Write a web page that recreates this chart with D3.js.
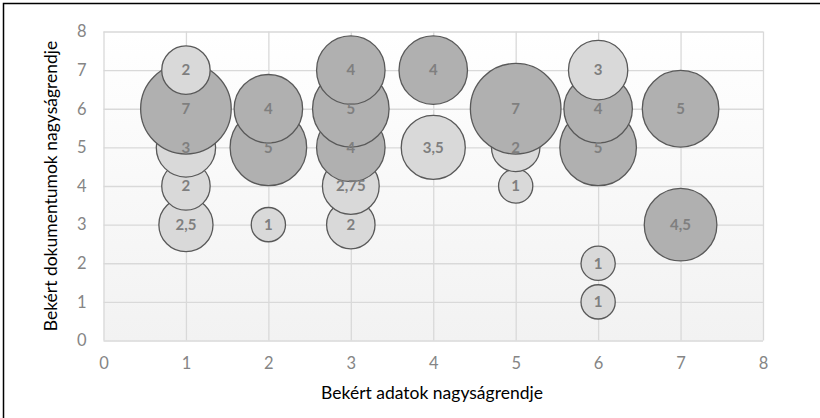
<!DOCTYPE html>
<html>
<head>
<meta charset="utf-8">
<script src="https://cdn.jsdelivr.net/npm/d3@7"></script>
<style>
  html, body { margin: 0; padding: 0; background: #ffffff; }
  svg { display: block; }
  text { font-family: Lato, "Open Sans", sans-serif; }
</style>
</head>
<body>
<svg id="chart" width="820" height="418"></svg>
<script>
// ---- data ----
const xTicks = [0, 1, 2, 3, 4, 5, 6, 7, 8];
const yTicks = [0, 1, 2, 3, 4, 5, 6, 7, 8];
const xTitle = "Bekért adatok nagyságrendje";
const yTitle = "Bekért dokumentumok nagyságrendje";

// light series (smaller values)
const lightX    = [1, 1, 1, 1,   2, 3,    3, 4,   5, 5, 6, 6, 6];
const lightY    = [7, 5, 4, 3,   3, 4,    3, 5,   5, 4, 7, 2, 1];
const lightSize = [2, 3, 2, 2.5, 1, 2.75, 2, 3.5, 2, 1, 3, 1, 1];

// dark series (larger values)
const darkX    = [1, 2, 2, 3, 3, 3, 4, 5, 6, 6, 7, 7];
const darkY    = [6, 6, 5, 7, 6, 5, 7, 6, 6, 5, 6, 3];
const darkSize = [7, 4, 5, 4, 5, 4, 4, 7, 4, 5, 5, 4.5];

// ---- layout ----
const svg = d3.select("#chart");
const pLeft = 103.5, pRight = 763, pTop = 31.5, pBottom = 340.5;

const x = d3.scaleLinear().domain([0, 8]).range([pLeft, pRight]);
const y = d3.scaleLinear().domain([0, 8]).range([pBottom, pTop]);
const r = d3.scaleSqrt().domain([0, 7]).range([0, 45.3]);

// outer frame
svg.append("rect")
  .attr("x", 3.5).attr("y", 3.5)
  .attr("width", 830).attr("height", 430)
  .attr("fill", "#ffffff")
  .attr("stroke", "#000000").attr("stroke-width", 1.5);

// plot area background gradient
const defs = svg.append("defs");
const grad = defs.append("linearGradient").attr("id", "pa")
  .attr("x1", 0).attr("y1", 0).attr("x2", 0).attr("y2", 1);
grad.append("stop").attr("offset", "0%").attr("stop-color", "#ffffff");
grad.append("stop").attr("offset", "100%").attr("stop-color", "#f2f2f2");
svg.append("rect")
  .attr("x", pLeft).attr("y", pTop)
  .attr("width", pRight - pLeft).attr("height", pBottom - pTop)
  .attr("fill", "url(#pa)");

// gridlines + tick labels via axes
const xAxis = d3.axisBottom(x).tickValues(xTicks).tickSize(-(pBottom - pTop)).tickPadding(17)
  .tickFormat(d3.format("d"));
const yAxis = d3.axisLeft(y).tickValues(yTicks).tickSize(-(pRight - pLeft)).tickPadding(17)
  .tickFormat(d3.format("d"));

const gx = svg.append("g").attr("transform", `translate(0,${pBottom})`).call(xAxis);
const gy = svg.append("g").attr("transform", `translate(${pLeft},0)`).call(yAxis);
[gx, gy].forEach(g => {
  g.select(".domain").remove();
  g.selectAll(".tick line").attr("stroke", "#d9d9d9").attr("stroke-width", 1.3);
  g.selectAll(".tick text")
    .attr("fill", "#858585")
    .style("font-family", "Lato, 'Open Sans', sans-serif")
    .style("font-size", "16.5px");
});

// bubbles
const points = [];
lightX.forEach((d, i) => points.push({ x: d, y: lightY[i], s: lightSize[i], fill: "#d9d9d9" }));
darkX.forEach((d, i) => points.push({ x: d, y: darkY[i], s: darkSize[i], fill: "#b0b0b0" }));
points.sort((a, b) => a.y - b.y);

svg.append("g").selectAll("circle").data(points).join("circle")
  .attr("cx", d => x(d.x))
  .attr("cy", d => y(d.y))
  .attr("r", d => r(d.s))
  .attr("fill", d => d.fill)
  .attr("stroke", "#595959")
  .attr("stroke-width", 1.3);

const fmt = v => String(v).replace(".", ",");
svg.append("g").selectAll("text").data(points).join("text")
  .attr("x", d => x(d.x))
  .attr("y", d => y(d.y))
  .attr("dy", "0.35em")
  .attr("text-anchor", "middle")
  .attr("fill", "#7f7f7f")
  .style("font-size", "15px")
  .style("font-weight", "bold")
  .text(d => fmt(d.s));

// axis titles
svg.append("text")
  .attr("x", 432)
  .attr("y", 393)
  .attr("dy", "0.35em")
  .attr("text-anchor", "middle")
  .attr("fill", "#000000")
  .style("font-size", "17.5px")
  .text(xTitle);

svg.append("text")
  .attr("transform", `translate(51,${(pTop + pBottom) / 2}) rotate(-90)`)
  .attr("dy", "0.35em")
  .attr("text-anchor", "middle")
  .attr("fill", "#000000")
  .style("font-size", "17.5px")
  .text(yTitle);
</script>
</body>
</html>
